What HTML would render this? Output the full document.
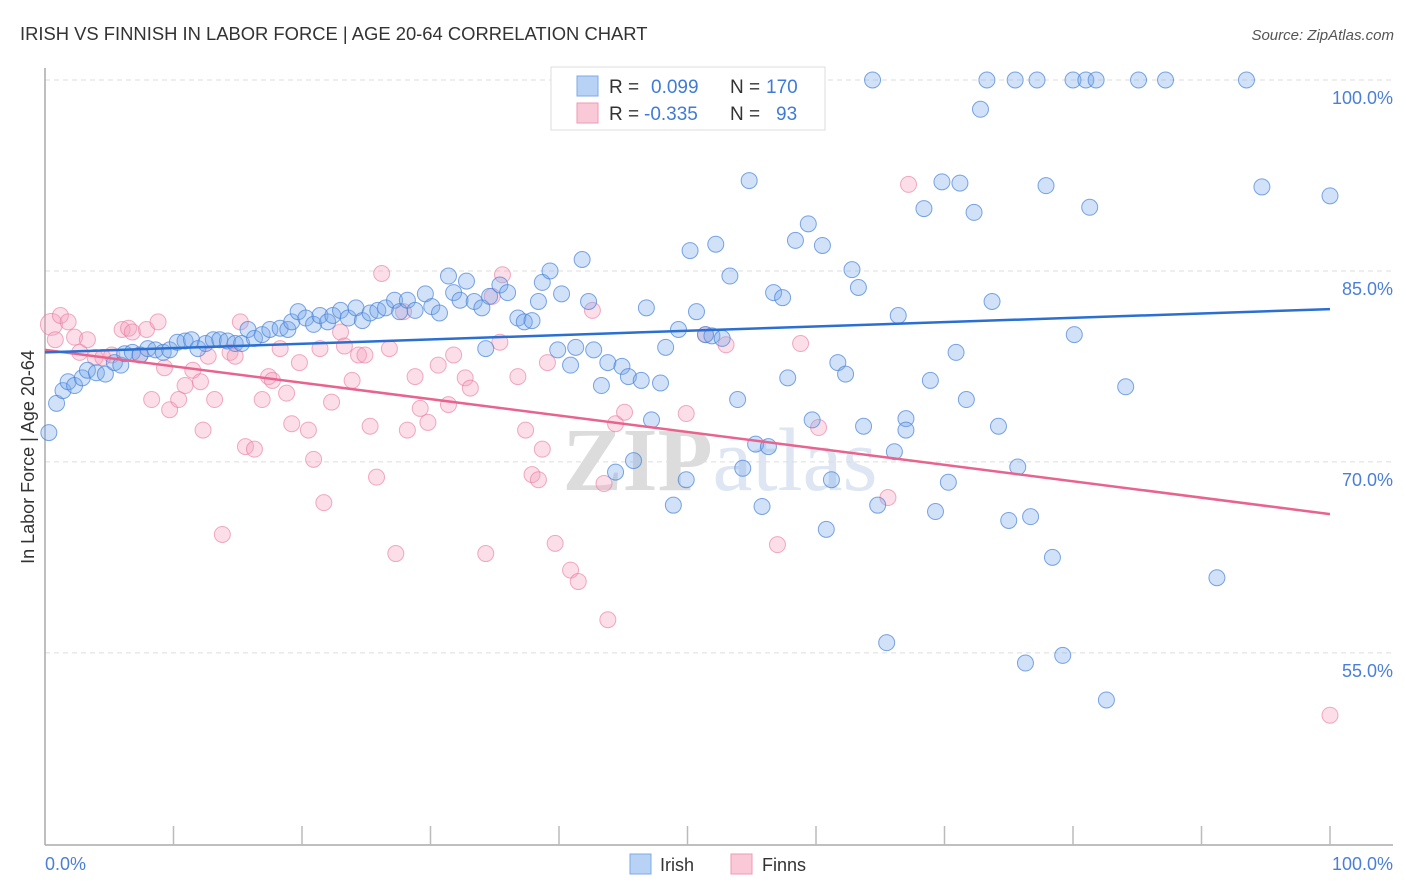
<!DOCTYPE html>
<html><head><meta charset="utf-8"><style>
body{margin:0;background:#fff;font-family:"Liberation Sans",sans-serif;}
svg{display:block}
</style></head><body>
<svg id="chart" width="1406" height="892" xmlns="http://www.w3.org/2000/svg">
<text x="20" y="40" font-size="18.4" fill="#333">IRISH VS FINNISH IN LABOR FORCE | AGE 20-64 CORRELATION CHART</text>
<text x="1394" y="40" font-size="15" fill="#555" font-style="italic" text-anchor="end">Source: ZipAtlas.com</text>
<text x="720" y="490" font-size="90" fill="#e6e6e6" text-anchor="middle" font-family="Liberation Serif"><tspan font-weight="bold" fill="#dcdcdc">ZIP</tspan><tspan fill="#dde6f2">atlas</tspan></text>
<g id="grid"></g>
<line x1="45" y1="68" x2="45" y2="845" stroke="#aaa" stroke-width="1.5"/>
<line x1="45" y1="845" x2="1393" y2="845" stroke="#aaa" stroke-width="1.5"/>
<g id="ticks"></g>
<g id="pink"></g>
<g id="blue"></g>
<g id="lines"></g>
<text transform="translate(34,457) rotate(-90)" font-size="18" fill="#333" text-anchor="middle">In Labor Force | Age 20-64</text>
<text x="45" y="870" font-size="18" fill="#4a7fd8">0.0%</text>
<text x="1393" y="870" font-size="18" fill="#4a7fd8" text-anchor="end">100.0%</text>
<g>
<rect x="551" y="67" width="274" height="63" fill="#fff" stroke="#ddd"/>
<rect x="577" y="76" width="21" height="20" fill="#b7d2f5" stroke="#7ea9e6"/>
<text x="609" y="93" font-size="19" fill="#333">R =</text><text x="651" y="93" font-size="19" fill="#3f7bd6">0.099</text>
<text x="730" y="93" font-size="19" fill="#333">N =</text><text x="766" y="93" font-size="19" fill="#3f7bd6">170</text>
<rect x="577" y="103" width="21" height="20" fill="#f9c9d7" stroke="#ee9ab4"/>
<text x="609" y="120" font-size="19" fill="#333">R =</text><text x="644" y="120" font-size="19" fill="#3f7bd6">-0.335</text>
<text x="730" y="120" font-size="19" fill="#333">N =</text><text x="776" y="120" font-size="19" fill="#3f7bd6">93</text>
</g>
<g>
<rect x="630" y="854" width="21" height="20" fill="#b7d2f5" stroke="#7ea9e6"/>
<text x="660" y="871" font-size="18" fill="#333">Irish</text>
<rect x="731" y="854" width="21" height="20" fill="#f9c9d7" stroke="#ee9ab4"/>
<text x="762" y="871" font-size="18" fill="#333">Finns</text>
</g>
</svg>
<script>
const yTicks=[100,85,70,55];
const yTickLabels=["100.0%","85.0%","70.0%","55.0%"];
const xTicks=[10,20,30,40,50,60,70,80,90,100];
const irishX=[0.3,0.9,1.4,1.8,2.3,2.9,3.3,4.0,4.7,5.4,5.9,6.2,6.8,7.4,8.0,8.6,9.2,9.7,10.3,10.9,11.4,11.9,12.5,13.1,13.6,14.2,14.8,15.3,15.8,16.3,16.9,17.5,18.3,18.9,19.2,19.7,20.3,20.9,21.4,22.0,22.4,23.0,23.6,24.2,24.7,25.3,25.9,26.5,27.2,27.6,28.2,28.8,29.6,30.1,30.7,31.4,31.8,32.3,32.8,33.4,34.0,34.6,35.4,36.0,34.3,36.8,37.3,37.9,38.4,38.7,39.3,39.9,40.2,40.9,41.3,41.8,42.3,42.7,43.3,43.8,44.4,44.9,45.4,45.8,46.4,46.8,47.2,47.9,48.3,48.9,49.3,49.9,50.2,50.7,51.4,51.9,52.2,52.7,53.3,53.9,54.3,54.8,55.3,55.8,56.3,56.7,57.4,57.8,58.4,59.4,59.7,60.5,60.8,61.2,61.7,62.3,62.8,63.3,63.7,64.4,64.8,65.5,66.1,66.4,67.0,67.0,68.4,68.9,69.3,69.8,70.3,70.9,71.2,71.7,72.3,72.8,73.3,73.7,74.2,75.0,75.5,75.7,76.3,76.7,77.2,77.9,78.4,79.2,80.0,80.1,81.0,81.3,81.8,82.6,84.1,85.1,87.2,91.2,93.5,94.7,100];
const irishY=[72.3,74.6,75.6,76.3,76.0,76.6,77.2,77.0,76.9,77.8,77.6,78.5,78.6,78.4,78.9,78.8,78.6,78.8,79.4,79.5,79.6,78.9,79.3,79.6,79.6,79.5,79.3,79.3,80.4,79.7,80.0,80.4,80.5,80.4,81.0,81.8,81.3,80.8,81.5,81.0,81.5,81.9,81.3,82.1,81.1,81.7,81.9,82.1,82.7,81.8,82.7,81.9,83.2,82.2,81.7,84.6,83.3,82.7,84.2,82.6,82.1,83.0,83.9,83.3,78.9,81.3,81.0,81.1,82.6,84.1,85.0,78.8,83.2,77.6,79.0,85.9,82.6,78.8,76.0,77.8,69.2,77.5,76.7,70.1,76.4,82.1,73.3,76.2,79.0,66.6,80.4,68.6,86.6,81.8,80.0,79.9,87.1,79.7,84.6,74.9,69.5,92.1,71.4,66.5,71.2,83.3,82.9,76.6,87.4,88.7,73.3,87.0,64.7,68.6,77.8,76.9,85.1,83.7,72.8,100,66.6,55.8,70.8,81.5,73.4,72.5,89.9,76.4,66.1,92.0,68.4,78.6,91.9,74.9,89.6,97.7,100,82.6,72.8,65.4,100,69.6,54.2,65.7,100,91.7,62.5,54.8,100,80.0,100,90.0,100,51.3,75.9,100,100,60.9,100,91.6,90.9];
const finnsX=[0.5,0.8,1.2,1.8,2.3,2.7,3.3,3.9,4.5,5.2,6.0,6.5,6.8,7.4,7.9,8.3,8.8,9.3,9.7,10.4,10.9,11.5,12.1,12.3,12.7,13.2,13.8,14.4,14.8,15.2,15.6,16.3,16.9,17.4,17.7,18.3,18.8,19.2,19.8,20.5,20.9,21.4,21.7,22.3,23.0,23.3,23.9,24.4,24.9,25.3,25.8,26.2,26.8,27.3,27.9,28.2,28.8,29.2,29.8,30.6,31.4,31.8,32.7,33.1,34.3,34.8,35.6,35.4,36.8,37.4,37.9,38.4,38.7,39.1,39.7,40.9,41.5,42.6,43.5,43.8,44.4,45.1,49.9,51.4,53.0,57.0,58.8,60.2,65.6,67.2,100];
const finnsY=[80.8,79.6,81.5,81.0,79.8,78.6,79.6,78.2,78.2,78.4,80.4,80.5,80.2,78.4,80.4,74.9,81.0,77.4,74.1,74.9,76.0,77.2,76.3,72.5,78.3,74.9,64.3,78.6,78.3,81.0,71.2,71.0,74.9,76.7,76.4,78.9,75.4,73.0,77.8,72.5,70.2,78.9,66.8,74.7,80.2,79.1,76.4,78.4,78.4,72.8,68.8,84.8,78.9,62.8,81.8,72.5,76.7,74.2,73.1,77.6,74.5,78.4,76.6,75.8,62.8,83.0,84.7,79.4,76.7,72.5,69.0,68.6,71.0,77.8,63.6,61.5,60.6,81.9,68.3,57.6,73.0,73.9,73.8,80.0,79.2,63.5,79.3,72.7,67.2,91.8,50.1];
const irishTrend=[78.6,82.0];
const finnsTrend=[78.8,65.9];
const NS="http://www.w3.org/2000/svg";
const xs=v=>45+v*12.85;
const ys=v=>80+(100-v)*12.73;
function mk(tag,attrs,parent){const e=document.createElementNS(NS,tag);for(const k in attrs)e.setAttribute(k,attrs[k]);parent.appendChild(e);return e;}
const grid=document.getElementById('grid');
yTicks.forEach((t,i)=>{
  const l=mk('line',{x1:45,x2:1393,y1:ys(t),y2:ys(t),stroke:'#ddd','stroke-dasharray':'5,4'},grid);
  
  
  const tx=mk('text',{x:1393,y:ys(t)+24,'font-size':18,fill:'#4a7fd8','text-anchor':'end'},grid);
  tx.textContent=yTickLabels[i];
  
  
});
const tk=document.getElementById('ticks');
xTicks.forEach(t=>{
  const l=mk('line',{x1:xs(t),x2:xs(t),y1:826,y2:845,stroke:'#bbb','stroke-width':1.5},tk);
  
  
});
const pg=document.getElementById('pink');
finnsX.forEach((x,i)=>{
  const c=mk('circle',{cx:xs(x),cy:ys(finnsY[i]),r:i==0?11:8,fill:'rgba(244,160,188,0.35)',stroke:'rgba(232,120,156,0.6)','stroke-width':1},pg);
  
  
});
const bg=document.getElementById('blue');
irishX.forEach((x,i)=>{
  const c=mk('circle',{cx:xs(x),cy:ys(irishY[i]),r:8,fill:'rgba(120,170,235,0.35)',stroke:'rgba(70,130,215,0.7)','stroke-width':1},bg);
  
  
});
const lg=document.getElementById('lines');
const l1=mk('line',{x1:xs(0),x2:xs(100),y1:ys(finnsTrend[0]),y2:ys(finnsTrend[1]),stroke:'#e8648e','stroke-width':2.5},lg);


const l2=mk('line',{x1:xs(0),x2:xs(100),y1:ys(irishTrend[0]),y2:ys(irishTrend[1]),stroke:'#2a6fd1','stroke-width':2.5},lg);


</script>
</body></html>
